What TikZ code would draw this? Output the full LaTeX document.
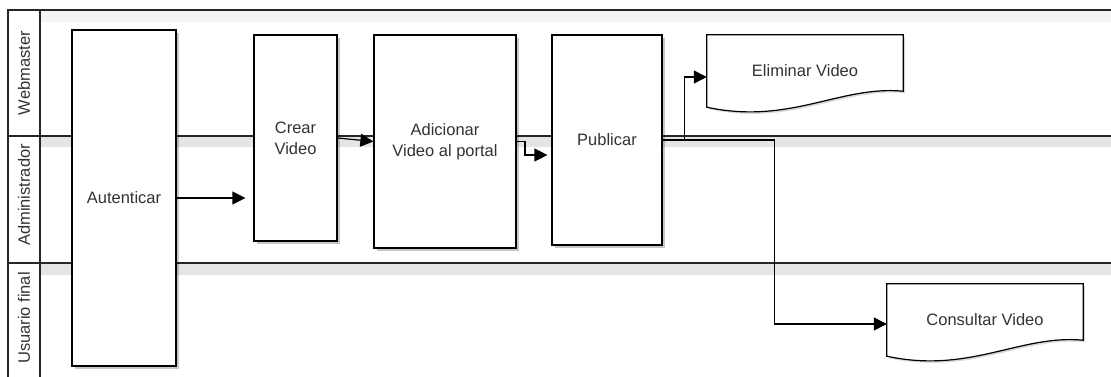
\documentclass[tikz,border=0pt]{standalone}
\usepackage{fontspec}
\setmainfont{Liberation Sans}
\usetikzlibrary{arrows.meta,shadows}
\definecolor{txt}{HTML}{333333}
\begin{document}
\begin{tikzpicture}[x=1pt,y=-1pt,
  lane/.style={line width=1.2pt,draw=black!85},
  band/.style={fill=black!10,draw=none},
  task/.style={draw=black,line width=1.2pt,fill=white,text=txt,align=center,
    font=\fontsize{16.5}{21}\selectfont,inner sep=0pt,
    drop shadow={shadow xshift=3pt,shadow yshift=-3pt,opacity=.22,fill=black}},
  docbox/.style={draw=none,text=txt,font=\fontsize{16.5}{21}\selectfont,inner sep=0pt,
    minimum width=196pt,minimum height=72pt},
  docline/.style={draw=black,line width=1.2pt,fill=white},
  lanelabel/.style={rotate=90,text=txt,font=\fontsize{16.5}{20}\selectfont,inner sep=0pt},
  arr/.style={line width=1.2pt,-{Triangle[length=13pt,width=13pt]}},
  conn/.style={line width=1.2pt}]
\useasboundingbox (0,0) rectangle (1111,377);
\fill[white] (0,0) rectangle (1111,377);
% shaded bands under lane lines
\fill[black!4] (40,10) rectangle (1111,22);
\path[band] (40,136) rectangle (1111,147);
\path[band] (40,263) rectangle (1111,275);
% pool frame and lanes
\draw[lane] (1111,10) -- (8,10) -- (8,377);
\draw[lane] (40,10) -- (40,377);
\draw[lane] (8,136) -- (1111,136);
\draw[lane] (8,263) -- (1111,263);
\node[lanelabel] (lw) at (24,73) {Webmaster};
\node[lanelabel] (la) at (24,195) {Administrador};
\node[lanelabel] (lu) at (24,318) {Usuario final};
% tasks
\node[task,minimum width=104pt,minimum height=336pt] (aut) at (124,198) {Autenticar};
\node[task,minimum width=83pt,minimum height=206pt] (crear) at (295.5,138) {Crear\\Video};
\node[task,minimum width=142pt,minimum height=213pt] (adic) at (445,141.5) {Adicionar\\Video al portal};
\node[task,minimum width=110pt,minimum height=210pt] (pub) at (607,140) {Publicar};
% document shapes
\node[docbox] (elim) at (805,71) {Eliminar Video};
\node[docbox] (cons) at (985,320) {Consultar Video};
\foreach \d in {elim,cons}{
  \path[docline,drop shadow={shadow xshift=2pt,shadow yshift=-2pt,opacity=.15,fill=black}]
    (\d.north west) -- (\d.north east) -- ([yshift=16pt]\d.south east)
    .. controls ([xshift=-63pt,yshift=22pt]\d.south east) and ([xshift=83pt,yshift=-18pt]\d.south west)
    .. (\d.south west) -- cycle;
}
\node[docbox] at (elim) {Eliminar Video};
\node[docbox] at (cons) {Consultar Video};
% connectors
\draw[arr,shorten >=8pt] (aut.east) -- (aut.east -| crear.west);
\draw[arr] (crear.east) -- (adic.west);
\coordinate (k) at (525,155);
\draw[arr,shorten >=4pt] (adic.east) -| (k) -- (pub.west |- k);
\path (pub.east) ++(22,0) coordinate (j1) ++(90,0) coordinate (j2);
\draw[conn] (pub.east) -- (j2);
\draw[arr] (j2) |- ([yshift=-4pt]cons.west);
\draw[arr] (j1) |- ([yshift=-6pt]elim.west);
\end{tikzpicture}
\end{document}
